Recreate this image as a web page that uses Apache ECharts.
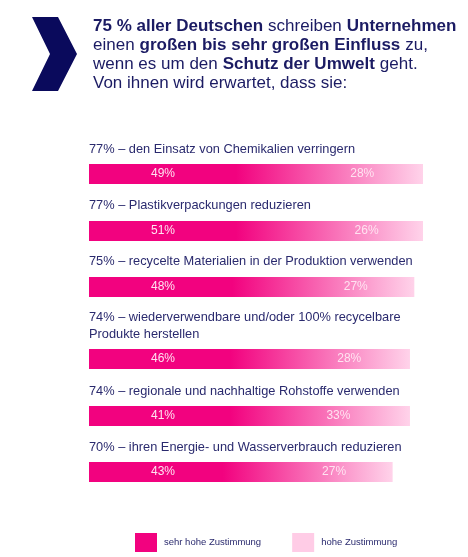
<!DOCTYPE html>
<html>
<head>
<meta charset="utf-8">
<script src="https://cdn.jsdelivr.net/npm/echarts@6/dist/echarts.min.js"></script>
<style>
    html, body { margin: 0; padding: 0; background: #fff; }
    #js-bars { width: 468px; height: 557px; }
</style>
</head>
<body>
<div id="js-bars"></div>
<script>
var categories = [
    'den Einsatz von Chemikalien verringern',
    'Plastikverpackungen reduzieren',
    'recycelte Materialien in der Produktion verwenden',
    'wiederverwendbare und/oder 100% recycelbare\nProdukte herstellen',
    'regionale und nachhaltige Rohstoffe verwenden',
    'ihren Energie- und Wasserverbrauch reduzieren'
];
var totals = [77, 77, 75, 74, 74, 70];
var sehrHoch = [49, 51, 48, 46, 41, 43];
var hoch = [28, 26, 27, 28, 33, 27];
var seriesNames = ['sehr hohe Zustimmung', 'hohe Zustimmung'];

var navy = '#1b1b63';
var labelTops = [141, 197, 253, 309, 383, 439];
var barTops = [164, 221, 277, 349, 406, 462];

var barChart = echarts.init(document.getElementById('js-bars'));

var grids = [], xAxes = [], yAxes = [], series = [], titles = [];

// header
titles.push({
    left: 93,
    top: 16.5,
    padding: 0,
    text: '{b|75 % aller Deutschen} {n|schreiben} {b|Unternehmen}\n' +
          '{n|einen} {b|großen bis sehr großen Einfluss} {n|zu,}\n' +
          '{n|wenn es um den} {b|Schutz der Umwelt} {n|geht.}\n' +
          '{n|Von ihnen wird erwartet, dass sie:}',
    textStyle: {
        rich: {
            b: { fontFamily: 'Liberation Sans', fontSize: 17, fontWeight: 'bold', color: navy, lineHeight: 19 },
            n: { fontFamily: 'Liberation Sans', fontSize: 17, fontWeight: 'normal', color: navy, lineHeight: 19 }
        }
    }
});

for (var i = 0; i < categories.length; i++) {
    titles.push({
        left: 89,
        top: labelTops[i],
        padding: 0,
        text: totals[i] + '% – ' + categories[i],
        textStyle: {
            fontFamily: 'Liberation Sans',
            fontSize: 12.8,
            fontWeight: 'normal',
            color: '#2a2a6e',
            lineHeight: 17
        }
    });
    grids.push({ left: 89, top: barTops[i], width: 334, height: 20 });
    xAxes.push({ gridIndex: i, type: 'value', min: 0, max: 77, show: false });
    yAxes.push({ gridIndex: i, type: 'category', data: [categories[i]], show: false });
    // whole bar with one continuous gradient, like the original
    series.push({
        name: 'gesamt',
        type: 'bar',
        xAxisIndex: i,
        yAxisIndex: i,
        barWidth: 20,
        barGap: '-100%',
        silent: true,
        data: [totals[i]],
        itemStyle: {
            color: new echarts.graphic.LinearGradient(0, 0, 1, 0, [
                { offset: 0, color: '#f2027f' },
                { offset: 0.44, color: '#f2027f' },
                { offset: 1, color: '#ffd3ea' }
            ])
        }
    });
    series.push({
        name: seriesNames[0],
        type: 'bar',
        stack: 'z' + i,
        xAxisIndex: i,
        yAxisIndex: i,
        barWidth: 20,
        data: [sehrHoch[i]],
        itemStyle: { color: 'rgba(0,0,0,0)' },
        label: {
            show: true,
            position: [62, '50%'],
            align: 'left',
            verticalAlign: 'middle',
            formatter: '{c}%',
            color: '#ffe3f1',
            fontFamily: 'Liberation Sans',
            fontSize: 12
        }
    });
    series.push({
        name: seriesNames[1],
        type: 'bar',
        stack: 'z' + i,
        xAxisIndex: i,
        yAxisIndex: i,
        barWidth: 20,
        data: [hoch[i]],
        itemStyle: { color: 'rgba(0,0,0,0)' },
        label: {
            show: true,
            position: 'inside',
            formatter: '{c}%',
            color: '#ffe3f1',
            fontFamily: 'Liberation Sans',
            fontSize: 12
        }
    });
}

var barOption = {
    animation: false,
    title: titles,
    grid: grids,
    xAxis: xAxes,
    yAxis: yAxes,
    legend: {
        left: 135,
        top: 533,
        padding: 0,
        itemWidth: 22,
        itemHeight: 19,
        itemGap: 31,
        icon: 'rect',
        textStyle: { fontFamily: 'Liberation Sans', fontSize: 9.5, color: '#2a2a6e', padding: [0, 0, 0, 2] },
        data: [
            { name: seriesNames[0], itemStyle: { color: '#f2027f' } },
            { name: seriesNames[1], itemStyle: { color: '#ffcce6' } }
        ]
    },
    graphic: [{
        type: 'polygon',
        shape: { points: [[32, 17], [58, 17], [77, 54], [58, 91], [32, 91], [50, 54]] },
        style: { fill: '#0a0a5c' }
    }],
    series: series
};
barChart.setOption(barOption);
</script>
</body>
</html>
